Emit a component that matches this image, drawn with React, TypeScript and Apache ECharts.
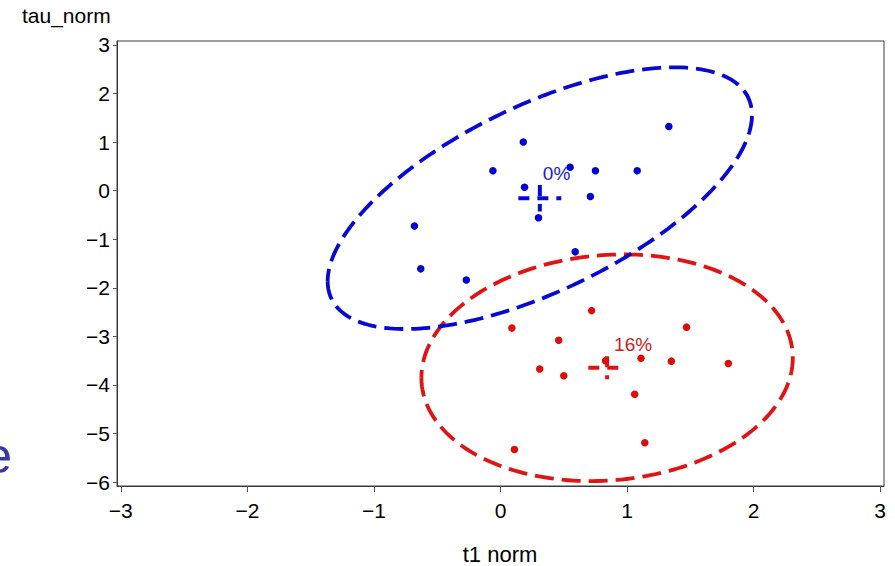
import React, { useEffect, useRef } from "react";
import * as echarts from "echarts";

// ---- data ----
const xTicks = [-3, -2, -1, 0, 1, 2, 3];
const yTicks = [-6, -5, -4, -3, -2, -1, 0, 1, 2, 3];
const groupNames = ["0%", "16%"];

const blueX = [1.33, 0.18, -0.06, 0.55, 0.75, 1.08, 0.19, 0.71, 0.3, -0.68, -0.63, -0.27, 0.59];
const blueY = [1.32, 1.0, 0.41, 0.48, 0.41, 0.41, 0.07, -0.12, -0.56, -0.73, -1.61, -1.84, -1.26];

const redX = [0.72, 0.09, 1.47, 0.46, 0.83, 1.11, 1.35, 1.8, 0.31, 0.5, 1.06, 1.14, 0.11];
const redY = [-2.47, -2.83, -2.81, -3.08, -3.5, -3.45, -3.51, -3.56, -3.67, -3.81, -4.19, -5.19, -5.33];

// scale of the prediction ellipse (in standard deviations)
const ellipseScale = 2.74;

// ---- styling ----
const FONT = '"Liberation Sans", Arial, Helvetica, sans-serif';
const groupStyles = [
  { point: "#0000d0", line: "#0808d4", text: "#2020c8", labelDx: 3 },
  { point: "#dc0c0c", line: "#e01414", text: "#cc1c1c", labelDx: 7 },
];

function stats(xs: number[], ys: number[]) {
  const n = xs.length;
  const mx = xs.reduce((a, b) => a + b, 0) / n;
  const my = ys.reduce((a, b) => a + b, 0) / n;
  let sxx = 0, syy = 0, sxy = 0;
  for (let i = 0; i < n; i++) {
    sxx += (xs[i] - mx) ** 2;
    syy += (ys[i] - my) ** 2;
    sxy += (xs[i] - mx) * (ys[i] - my);
  }
  const vxx = sxx / (n - 1), vyy = syy / (n - 1), cxy = sxy / (n - 1);
  return { n, mx, my, vxx, vyy, cxy, sex: Math.sqrt(vxx / n), sey: Math.sqrt(vyy / n) };
}

function ellipsePoints(s: ReturnType<typeof stats>, k: number) {
  const l11 = Math.sqrt(s.vxx);
  const l21 = s.cxy / l11;
  const l22 = Math.sqrt(Math.max(s.vyy - l21 * l21, 0));
  const pts: number[][] = [];
  const N = 240;
  for (let i = 0; i <= N; i++) {
    const t = (i / N) * Math.PI * 2 + Math.PI;
    const c = Math.cos(t), sn = Math.sin(t);
    pts.push([s.mx + k * l11 * c, s.my + k * (l21 * c + l22 * sn)]);
  }
  return pts;
}

const minus = (v: number) => String(v).replace("-", "\u2212");

export default function App() {
  const ref = useRef<HTMLDivElement>(null);
  useEffect(() => {
    document.body.style.margin = "0";
    const chart = echarts.init(ref.current!, undefined, { renderer: "svg" });
    const groups = [
      { name: groupNames[0], xs: blueX, ys: blueY, st: groupStyles[0] },
      { name: groupNames[1], xs: redX, ys: redY, st: groupStyles[1] },
    ];
    const series: any[] = [];
    groups.slice().reverse().forEach((g) => {
      const s = stats(g.xs, g.ys);
      const pts = ellipsePoints(s, ellipseScale);
      series.push({
        type: "custom",
        name: g.name + " ellipse",
        z: 2,
        data: [[s.mx, s.my]],
        encode: { x: 0, y: 1 },
        renderItem: (_p: any, api: any) => ({
          type: "polyline",
          shape: { points: pts.map((p) => api.coord(p)) },
          style: { stroke: g.st.line, lineWidth: 3.8, lineDash: [19, 8], fill: null },
        }),
      });
    });
    groups.forEach((g) => {
      const s = stats(g.xs, g.ys);
      series.push({
        type: "custom",
        name: g.name + " mean",
        z: 3,
        data: [[s.mx, s.my]],
        encode: { x: 0, y: 1 },
        renderItem: (_p: any, api: any) => {
          const c = api.coord([s.mx, s.my]);
          const l = api.coord([s.mx - s.sex, s.my]);
          const r = api.coord([s.mx + s.sex, s.my]);
          const t = api.coord([s.mx, s.my + s.sey]);
          const b = api.coord([s.mx, s.my - s.sey]);
          const ls = { stroke: g.st.line, lineWidth: 4, lineDash: [11, 8] };
          return {
            type: "group",
            children: [
              { type: "line", shape: { x1: l[0], y1: l[1], x2: r[0], y2: r[1] }, style: ls },
              { type: "line", shape: { x1: t[0], y1: t[1], x2: b[0], y2: b[1] }, style: ls },
              {
                type: "text",
                x: c[0] + g.st.labelDx,
                y: t[1] - 2,
                style: {
                  text: g.name,
                  fill: g.st.text,
                  fontSize: 19,
                  fontFamily: FONT,
                  align: "left",
                  verticalAlign: "bottom",
                  textAlign: "left",
                  textVerticalAlign: "bottom",
                },
              },
            ],
          };
        },
      });
    });
    groups.forEach((g) => {
      series.push({
        type: "scatter",
        name: g.name,
        z: 4,
        symbol: "circle",
        symbolSize: 7.5,
        itemStyle: { color: g.st.point, opacity: 1 },
        data: g.xs.map((x, i) => [x, g.ys[i]]),
      });
    });

    chart.setOption({
      animation: false,
      backgroundColor: "#ffffff",
      textStyle: { fontFamily: FONT },
      grid: {
        left: 117,
        right: 11,
        top: 41,
        bottom: 80,
        show: true,
        borderColor: "#3a3a3a",
        borderWidth: 1,
        backgroundColor: "transparent",
      },
      xAxis: {
        type: "value",
        min: -3.03,
        max: 3.03,
        axisLine: { show: true, onZero: false, lineStyle: { color: "#3a3a3a", width: 1 } },
        axisTick: { show: true, length: 6, customValues: xTicks, lineStyle: { color: "#555" } },
        axisLabel: {
          customValues: xTicks,
          formatter: (v: number) => minus(v),
          color: "#000",
          fontSize: 21,
          fontFamily: FONT,
          margin: 14,
        },
        splitLine: { show: false },
      },
      yAxis: {
        type: "value",
        min: -6.08,
        max: 3.08,
        axisLine: { show: true, onZero: false, lineStyle: { color: "#3a3a3a", width: 1 } },
        axisTick: { show: true, length: 4, customValues: yTicks, lineStyle: { color: "#555" } },
        axisLabel: {
          customValues: yTicks,
          formatter: (v: number) => minus(v),
          color: "#000",
          fontSize: 21,
          fontFamily: FONT,
          margin: 7,
        },
        splitLine: { show: false },
      },
      graphic: [
        {
          type: "text",
          left: 22,
          top: 5,
          style: { text: "tau_norm", fill: "#000", fontSize: 21, fontFamily: FONT },
        },
        {
          type: "text",
          x: 500,
          y: 554,
          style: {
            text: "t1 norm",
            fill: "#000",
            fontSize: 22,
            fontFamily: FONT,
            align: "center",
            verticalAlign: "middle",
            textAlign: "center",
            textVerticalAlign: "middle",
          },
        },
        {
          type: "text",
          x: 12,
          y: 456,
          style: {
            text: "e",
            fill: "#3838a8",
            fontSize: 50,
            fontFamily: FONT,
            align: "right",
            verticalAlign: "middle",
            textAlign: "right",
            textVerticalAlign: "middle",
          },
        },
      ],
      series,
    });
    return () => chart.dispose();
  }, []);
  return <div ref={ref} style={{ width: 895, height: 566 }} />;
}
